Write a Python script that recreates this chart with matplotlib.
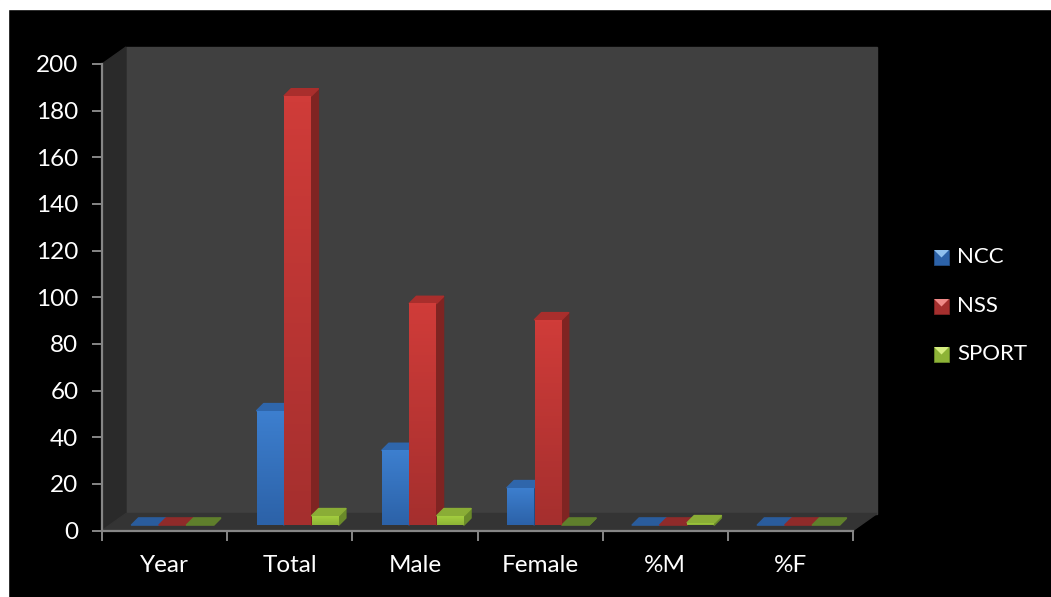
import numpy as np
from matplotlib import pyplot as plt
from matplotlib.colors import LinearSegmentedColormap
from matplotlib.patches import Polygon, Rectangle

categories = ["Year", "Total", "Male", "Female", "%M", "%F"]
ncc = [0, 49, 32, 16, 0, 0]
nss = [0, 184, 95, 88, 0, 0]
sport = [0, 4, 4, 0, 1, 0]
series_names = ["NCC", "NSS", "SPORT"]
y_ticks = list(range(0, 201, 20))

W, H = 1051, 597
FONT = "Lato"
# face colours per series: top of gradient, bottom of gradient, side, cap, flat cap, swatch highlight
COLORS = [
    ("#3d7fcf", "#2c62a8", "#234d84", "#2f66ab", "#2a5c9c", "#8fc0ee"),
    ("#d03c39", "#a52f2e", "#7f2422", "#a92e2c", "#8f2b2a", "#f08a88"),
    ("#a6d140", "#8db336", "#6a8a2a", "#8aad36", "#5f7f2c", "#d6ee80"),
]

plt.rcParams["font.family"] = FONT

fig = plt.figure(figsize=(W / 100, H / 100), dpi=100, facecolor="black")
ax = fig.add_axes([102 / W, (H - 530.5) / H, 751 / W, 466.5 / H])
ax.patch.set_visible(False)
ax.set_xlim(-0.5, 5.5)
ax.set_ylim(0, 200)

# px to data units
px_x = 6 / 751
px_y = 200 / 466.5

# white margin at the left and top of the picture
fig.patches.append(Rectangle((0, 0), 8 / W, 1, transform=fig.transFigure, color="white", zorder=5))
fig.patches.append(Rectangle((0, 1 - 9 / H), 1, 9 / H, transform=fig.transFigure, color="white", zorder=5))

# 3d box behind the bars
wall_dx = 24 * px_x
wall_dy = 17 * px_y
x0, x1 = -0.5, 5.5
ax.add_patch(Polygon([(x0 + wall_dx, wall_dy), (x1 + wall_dx, wall_dy), (x1 + wall_dx, 200 + wall_dy),
                      (x0 + wall_dx, 200 + wall_dy)], color="#404040", clip_on=False, zorder=1))
ax.add_patch(Polygon([(x0, 0), (x0 + wall_dx, wall_dy), (x0 + wall_dx, 200 + wall_dy), (x0, 200)],
                     color="#2a2a2a", clip_on=False, zorder=1))
ax.add_patch(Polygon([(x0, 0), (x1, 0), (x1 + wall_dx, wall_dy), (x0 + wall_dx, wall_dy)],
                     color="#343434", clip_on=False, zorder=1))

# bars
bar_w = 27 * px_x
depth_x = 7 * px_x
depth_y = 7 * px_y
base = 5.5 * px_y
group_shift = 8 * px_x
round_kw = dict(clip_on=False, joinstyle="round", linewidth=1.2)
for i, values in enumerate([ncc, nss, sport]):
    top_c, bot_c, side_c, cap_c, flat_c, _ = COLORS[i]
    cmap = LinearSegmentedColormap.from_list("face", [top_c, bot_c])
    xs = np.arange(len(categories)) + group_shift + (i - 1) * (bar_w + 0.5 * px_x)
    bars = ax.bar(xs, values, bar_w, bottom=base, color=top_c, linewidth=0, zorder=3)
    for x, v, bar in zip(xs, values, bars):
        left, right = x - bar_w / 2, x + bar_w / 2
        top = base + v
        ax.add_patch(Polygon([(right, base), (right + depth_x, base + depth_y),
                              (right + depth_x, top + depth_y), (right, top)],
                             color=side_c, zorder=2, **round_kw))
        ax.add_patch(Polygon([(left, top), (right, top), (right + depth_x, top + depth_y),
                              (left + depth_x, top + depth_y)],
                             color=cap_c if v > 0 else flat_c, zorder=3, **round_kw))
        if v > 0:
            grad = np.linspace(0, 1, 64).reshape(-1, 1)
            im = ax.imshow(grad, cmap=cmap, aspect="auto", extent=(left, right, base, top),
                           origin="upper", zorder=4)
            im.set_clip_path(bar)

ax.set_xlim(-0.5, 5.5)
ax.set_ylim(0, 200)

# axes
for side in ["top", "right"]:
    ax.spines[side].set_visible(False)
for side in ["left", "bottom"]:
    ax.spines[side].set_color("#868686")
    ax.spines[side].set_linewidth(1.6)
    ax.spines[side].set_zorder(6)
ax.set_yticks(y_ticks)
ax.set_xticks(np.arange(-0.5, 6, 1))
ax.set_xticklabels([])
ax.set_xticks(np.arange(len(categories)), labels=categories, minor=True)
ax.tick_params(axis="y", length=7, width=1.4, color="#868686", labelcolor="white", labelsize=17.5, pad=10)
ax.tick_params(axis="x", which="major", length=7, width=1.4, color="#868686")
ax.tick_params(axis="x", which="minor", length=0, labelcolor="white", labelsize=17.5, pad=17.5)

# legend
for name, colors, cy in zip(series_names, COLORS, [257, 306, 354]):
    top_c, bot_c, side_c, _, _, light_c = colors
    sx, sy, s = 934, cy + 8, 15
    fig.patches.append(Rectangle((sx / W, (H - sy) / H), s / W, s / H, transform=fig.transFigure,
                                 facecolor=bot_c, edgecolor=side_c, linewidth=0.6))
    fig.patches.append(Polygon([(sx / W, (H - sy + s) / H), ((sx + s) / W, (H - sy + s) / H),
                                ((sx + s / 2) / W, (H - sy + s / 2) / H)], transform=fig.transFigure,
                               facecolor=light_c, linewidth=0))
    fig.text(957 / W, (H - cy) / H, name, color="white", fontsize=16, va="center", ha="left")

fig.savefig("out.png", dpi=100, facecolor="black")
